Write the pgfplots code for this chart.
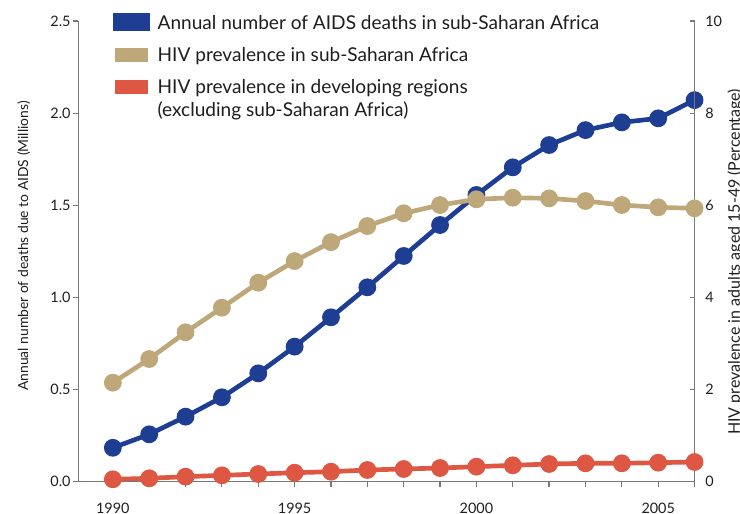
\documentclass[border=0pt]{standalone}
\usepackage{fontspec}
\setmainfont{Lato}
\usepackage{pgfplots}
\pgfplotsset{compat=1.18}
\definecolor{cblue}{RGB}{30,62,148}
\definecolor{ctan}{RGB}{190,168,122}
\definecolor{cred}{RGB}{221,87,66}
\definecolor{caxis}{RGB}{120,120,120}
\definecolor{ctext}{RGB}{30,30,30}

\pgfplotstableread{
year deaths
1990 0.184
1991 0.257
1992 0.353
1993 0.458
1994 0.588
1995 0.733
1996 0.892
1997 1.055
1998 1.225
1999 1.393
2000 1.556
2001 1.706
2002 1.827
2003 1.908
2004 1.950
2005 1.972
2006 2.071
}\deaths

\pgfplotstableread{
year ssa dev
1990 2.149 0.052
1991 2.663 0.073
1992 3.243 0.109
1993 3.777 0.138
1994 4.320 0.167
1995 4.790 0.195
1996 5.200 0.217
1997 5.550 0.254
1998 5.826 0.276
1999 6.006 0.297
2000 6.130 0.326
2001 6.165 0.355
2002 6.150 0.384
2003 6.093 0.399
2004 6.006 0.399
2005 5.956 0.413
2006 5.934 0.428
}\prev

\begin{document}
\begin{tikzpicture}
\pgfplotsset{
  base/.style={
    scale only axis, width=462.2pt, height=345.5pt,
    xmin=1989.05, xmax=2006, clip=false,
    axis line style={caxis, line width=0.9pt},
    major tick style={caxis, line width=0.9pt},
    minor tick style={caxis, line width=0.9pt},
    major tick length=3.75pt, minor tick length=3.75pt,
    tick label style={font=\fontsize{10.8pt}{12pt}\selectfont, text=ctext,
      /pgf/number format/assume math mode=true},
    label style={text=ctext},
  },
  ser/.style={line width=3.5pt, mark=*, mark size=4.9pt, mark options={solid, draw=none, fill=#1}, color=#1},
}
\begin{axis}[base, name=main,
  axis x line*=bottom, axis y line*=left, tick align=outside,
  ymin=0, ymax=2.5, ytick={0,0.5,1,1.5,2,2.5},
  yticklabel style={/pgf/number format/.cd, fixed, fixed zerofill, precision=1, /tikz/xshift=1.5pt},
  xtick={1990,1995,2000,2005}, minor xtick={1990,...,2006},
  xticklabel style={/pgf/number format/1000 sep={}, yshift=-8.5pt},
  ylabel={Annual number of deaths due to AIDS (Millions)},
  ylabel style={at={(axis description cs:-0.0885,0.5116)}, anchor=center, font=\fontsize{10.4pt}{12pt}\selectfont},
  legend cell align=left,
  legend style={at={(rel axis cs:0.0563,1.0165)}, anchor=north west, draw=none, fill=none,
    inner sep=0pt, outer sep=0pt, row sep=10.5pt, column sep=6pt,
    font=\fontsize{14.3pt}{17.25pt}\selectfont, text=ctext,
    nodes={anchor=base west, text height=10pt, text depth=3.5pt, inner sep=0pt},
    cells={anchor=base west}},
  legend image code/.code={\fill[#1] (0pt,0pt) rectangle (24pt,10pt);},
]
\addplot[ser=cblue] table[x=year, y=deaths] {\deaths};
\addlegendentry{Annual number of AIDS deaths in sub-Saharan Africa}
\addlegendimage{ctan, fill=ctan}
\addlegendentry{HIV prevalence in sub-Saharan Africa}
\addlegendimage{cred, fill=cred}
\addlegendentry{\begin{tabular}[t]{@{}l@{}}HIV prevalence in developing regions\\(excluding sub-Saharan Africa)\end{tabular}}
\end{axis}
\begin{axis}[base,
  axis x line=none, axis y line*=right, tick align=inside,
  ymin=0, ymax=10, ytick={0,2,4,6,8,10},
  yticklabel style={xshift=4.5pt},
  ylabel={HIV prevalence in adults aged 15-49 (Percentage)},
  ylabel style={at={(axis description cs:1.066,0.477)}, anchor=center, font=\fontsize{12pt}{14pt}\selectfont},
]
\addplot[ser=ctan] table[x=year, y=ssa] {\prev};
\addplot[ser=cred] table[x=year, y=dev] {\prev};
\end{axis}
\pgfresetboundingbox
\path[use as bounding box] ([shift={(-58.725pt,-24.225pt)}]main.south west) rectangle ([shift={(496.275pt,361.275pt)}]main.south west);
\end{tikzpicture}
\end{document}
